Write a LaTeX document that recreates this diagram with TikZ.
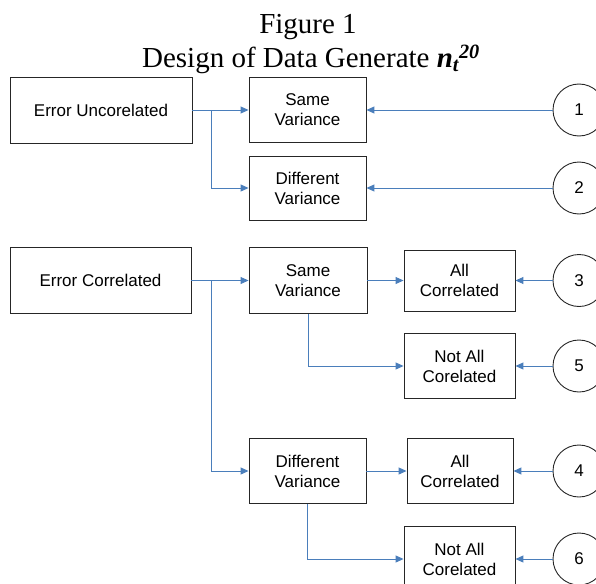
\documentclass[tikz,border=0pt]{standalone}
\usepackage{fontspec}
\setmainfont{Liberation Serif}
\newfontfamily\boxfont{Liberation Sans}
\usetikzlibrary{arrows.meta}
\definecolor{linkblue}{HTML}{4A7EBB}
\tikzset{
  box/.style={draw=black!85, line width=0.9pt, align=center, inner sep=0pt,
    font=\boxfont\fontsize{17}{20}\selectfont, fill=white},
  numcirc/.style={draw=black!85, line width=0.9pt, circle, minimum size=52pt, inner sep=0pt,
    font=\boxfont\fontsize{17}{20}\selectfont},
  link/.style={draw=linkblue, line width=1pt, -{Triangle[length=8pt,width=7pt]}},
  titlefont/.style={font=\fontsize{29}{34}\selectfont}
}
\begin{document}
\begin{tikzpicture}[x=1pt,y=-1pt]
\useasboundingbox (0,0) rectangle (596,583);
% title
\node[titlefont, anchor=base, inner sep=0pt] (t1) at (308,34) {Figure 1};
\node[titlefont, anchor=base, inner sep=0pt] (t2) at (311,68) {Design of Data Generate \textbf{\textit{n\textsubscript{t}\textsuperscript{20}}}};
% boxes
\node[box, minimum width=182pt, minimum height=66pt] (EU) at (101,110) {Error Uncorelated};
\node[box, minimum width=117pt, minimum height=65pt] (SV1) at (307.5,110) {Same\\Variance};
\node[box, minimum width=117pt, minimum height=64pt] (DV1) at (307.5,188) {Different\\Variance};
\node[box, minimum width=181pt, minimum height=66pt] (EC) at (100.5,280.5) {Error Correlated};
\node[box, minimum width=118pt, minimum height=66pt] (SV2) at (308,280.5) {Same\\Variance};
\node[box, minimum width=111pt, minimum height=61pt] (AC1) at (459.5,280.5) {All\\Correlated};
\node[box, minimum width=111pt, minimum height=65pt] (NAC1) at (459.5,366) {Not All\\Corelated};
\node[box, minimum width=117pt, minimum height=65pt] (DV2) at (307.5,471) {Different\\Variance};
\node[box, minimum width=106pt, minimum height=65pt] (AC2) at (460,471) {All\\Correlated};
\node[box, minimum width=111pt, minimum height=65pt] (NAC2) at (459.5,559) {Not All\\Corelated};
% circles
\node[numcirc] (c1) at (579,110) {1};
\node[numcirc] (c2) at (579,188) {2};
\node[numcirc] (c3) at (579,280.5) {3};
\node[numcirc] (c5) at (579,366) {5};
\node[numcirc] (c4) at (579,471) {4};
\node[numcirc] (c6) at (579,559) {6};
% branch points
\coordinate (b1) at (211,110);
\coordinate (b2) at (211,280.5);
% connectors
\draw[link] (EU.east) -- (SV1.west);
\draw[link] (b1) |- (DV1.west);
\draw[link] (c1.west) -- (SV1.east);
\draw[link] (c2.west) -- (DV1.east);
\draw[link] (EC.east) -- (SV2.west);
\draw[link] (b2) |- (DV2.west);
\draw[link] (SV2.east) -- (AC1.west);
\draw[link] (SV2.south) |- (NAC1.west);
\draw[link] (DV2.east) -- (AC2.west);
\draw[link] (DV2.south) |- (NAC2.west);
\draw[link] (c3.west) -- (AC1.east);
\draw[link] (c5.west) -- (NAC1.east);
\draw[link] (c4.west) -- (AC2.east);
\draw[link] (c6.west) -- (NAC2.east);
\end{tikzpicture}
\end{document}
